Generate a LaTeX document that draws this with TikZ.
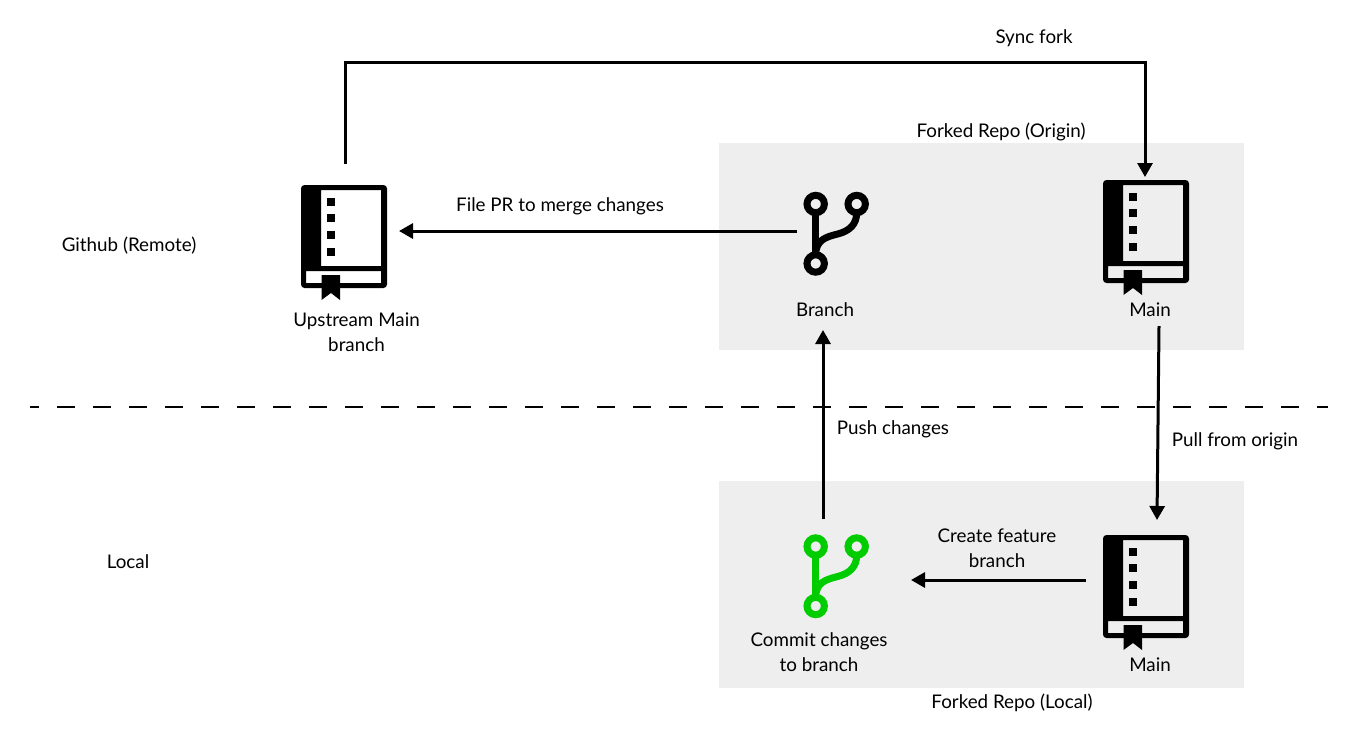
\documentclass[tikz,border=0pt]{standalone}
\usepackage{fontspec}
\setmainfont{Lato}
\usetikzlibrary{arrows.meta}
\definecolor{panelgrey}{HTML}{EEEEEE}
\definecolor{gitgreen}{HTML}{00CC00}
\tikzset{
  x=1pt,y=-1pt,
  panel/.style={fill=panelgrey,draw=none},
  label/.style={font=\fontsize{18.8}{25}\selectfont,align=center,inner sep=0pt,text=black},
  conn/.style={line width=3pt,-{Triangle[length=14pt,width=15pt]}},
  bookicon/.pic={
    \fill[black,even odd rule,rounded corners=3.5pt] (0,0) rectangle (86,103)
       [sharp corners] (20,5) rectangle (80,81) (5,86) rectangle (80,98);
    \fill[black] (20.5,90) -- (39,90) -- (39,115) -- (30,108) -- (20.5,115) -- cycle;
    \foreach \yy in {17,33,50,67}{\fill[black] (25.7,\yy-4.3) rectangle (34.3,\yy+4.3);}
  },
  forkicon/.pic={
    \draw[line width=7pt,pic actions] (0,0) circle[radius=8.7];
    \draw[line width=7pt,pic actions] (41,0) circle[radius=8.7];
    \draw[line width=7pt,pic actions] (0,59.5) circle[radius=8.7];
    \draw[line width=7pt,pic actions] (0,8.7) -- (0,51);
    \draw[line width=7pt,pic actions] (41,8.7) .. controls (41,20) and (34,27) .. (22,30) .. controls (10,33) and (0,36) .. (0,51);
  }
}
\begin{document}
\begin{tikzpicture}
\useasboundingbox (0,0) rectangle (1356,737);
\fill[white] (0,0) rectangle (1356,737);
\node[panel,minimum width=525pt,minimum height=207pt,inner sep=0pt,anchor=north west] (originbox) at (719,143) {};
\node[panel,minimum width=525pt,minimum height=207pt,inner sep=0pt,anchor=north west] (localbox) at (719,481) {};

\pic at (301,185) {bookicon};
\pic at (1103,180) {bookicon};
\pic at (1103,535) {bookicon};
\pic[draw=black] at (815.7,204) {forkicon};
\pic[draw=gitgreen] at (815.7,546.5) {forkicon};

\coordinate (divL) at (30,407);
\coordinate (divR) at (1328,407);
\draw[line width=1.2pt,dash pattern=on 18pt off 18pt,dash phase=9pt] (divL) -- (divR);

\coordinate (upTop) at (345,164);
\coordinate (syncEnd) at (1145,177);
\coordinate (upArrow) at (399,231);
\coordinate (branchLeft) at (797,231);
\coordinate (pushStart) at (823,519);
\coordinate (pushEnd) at (823,330);
\coordinate (pullStart) at (1159,326);
\coordinate (pullEnd) at (1157,520);
\coordinate (createStart) at (1086,580);
\coordinate (createEnd) at (911,580);

\draw[conn] (upTop) -- (345,62) -- (1145,62) -- (syncEnd);
\draw[conn] (branchLeft) -- (upArrow);
\draw[conn] (pushStart) -- (pushEnd);
\draw[conn] (pullStart) -- (pullEnd);
\draw[conn] (createStart) -- (createEnd);

\node[label] (t1) at (1034,38) {Sync fork};
\node[label] (t2) at (1001,132) {Forked Repo (Origin)};
\node[label] (t3) at (560,206) {File PR to merge changes};
\node[label] (t4) at (129,246) {Github (Remote)};
\node[label] (t5) at (356.5,332) {Upstream Main\\branch};
\node[label] (t6) at (825,310) {Branch};
\node[label] (t7) at (1150,310) {Main};
\node[label] (t8) at (893,429) {Push changes};
\node[label] (t9) at (1235,441) {Pull from origin};
\node[label] (t10) at (997,548) {Create feature\\branch};
\node[label] (t11) at (128,562) {Local};
\node[label] (t12) at (819,652) {Commit changes\\to branch};
\node[label] (t13) at (1150,665) {Main};
\node[label] (t14) at (1012,703) {Forked Repo (Local)};
\end{tikzpicture}
\end{document}
